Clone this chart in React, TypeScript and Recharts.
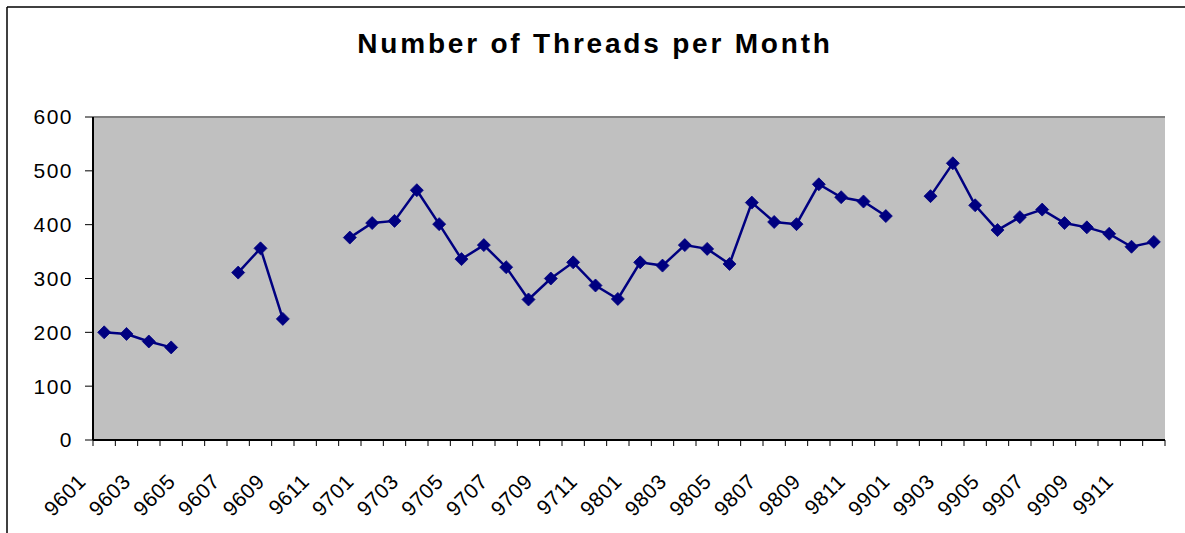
import React from 'react';
import { LineChart, Line, XAxis, YAxis, CartesianGrid, ReferenceLine } from 'recharts';

const months = [
  '9601', '9602', '9603', '9604', '9605', '9606', '9607', '9608', '9609', '9610', '9611', '9612',
  '9701', '9702', '9703', '9704', '9705', '9706', '9707', '9708', '9709', '9710', '9711', '9712',
  '9801', '9802', '9803', '9804', '9805', '9806', '9807', '9808', '9809', '9810', '9811', '9812',
  '9901', '9902', '9903', '9904', '9905', '9906', '9907', '9908', '9909', '9910', '9911', '9912',
];

const threads: (number | null)[] = [
  200, 197, 183, 172, null, null, 311, 356, 225, null, null, 376,
  403, 407, 464, 401, 336, 362, 321, 261, 300, 330, 287, 262,
  330, 324, 362, 355, 327, 441, 405, 401, 475, 451, 443, 416,
  null, 453, 514, 436, 390, 414, 428, 403, 395, 383, 359, 368,
];

const yTicks = [0, 100, 200, 300, 400, 500, 600];
const title = 'Number of Threads per Month';

const data = months.map((m, i) => ({ month: m, threads: threads[i] }));

const W = 1185;
const H = 533;
const MARGIN = { top: 117, right: 20, bottom: 0, left: 0 };
const Y_AXIS_W = 93;
const X_AXIS_H = 93;
const PLOT_W = W - MARGIN.left - MARGIN.right - Y_AXIS_W;
const HALF_BAND = PLOT_W / months.length / 2;
const FONT = 'Arial, "Liberation Sans", Helvetica, sans-serif';

const Diamond = (props: any) => {
  const { cx, cy, value, index } = props;
  if (value == null || cx == null || cy == null) return <g key={`d-${index}`} />;
  const r = 6.5;
  return (
    <path
      key={`d-${index}`}
      d={`M${cx},${cy - r}L${cx + r},${cy}L${cx},${cy + r}L${cx - r},${cy}Z`}
      fill="#000080"
      stroke="#000080"
      strokeWidth={0.8}
    />
  );
};

const XTick = (props: any) => {
  const { x, y, payload, index } = props;
  const i = typeof index === 'number' ? index : months.indexOf(payload.value);
  const left = x - HALF_BAND;
  const isLast = i === months.length - 1;
  const showLabel = i % 2 === 0;
  const ax = x - 17;
  const ay = y + 43;
  return (
    <g>
      <line x1={left} y1={y} x2={left} y2={y + 6} stroke="#000" strokeWidth={1} />
      {isLast && (
        <line x1={x + HALF_BAND} y1={y} x2={x + HALF_BAND} y2={y + 6} stroke="#000" strokeWidth={1} />
      )}
      {showLabel && (
        <text
          x={ax}
          y={ay}
          textAnchor="end"
          transform={`rotate(-45, ${ax}, ${ay})`}
          fontFamily={FONT}
          fontSize={21}
          letterSpacing={0.5}
          fill="#000"
        >
          {payload.value}
        </text>
      )}
    </g>
  );
};

export default function App() {
  return (
    <div style={{ position: 'absolute', left: 0, top: 0, width: W, height: H, overflow: 'hidden', background: '#fff' }}>
      <svg width={W} height={H} style={{ position: 'absolute', left: 0, top: 0 }}>
        <line x1={7} y1={7} x2={W} y2={7} stroke="#000" strokeWidth={1.5} />
        <line x1={7} y1={7} x2={7} y2={H} stroke="#000" strokeWidth={1.5} />
        <text
          x={595}
          y={53}
          textAnchor="middle"
          fontFamily={FONT}
          fontSize={28}
          fontWeight="bold"
          letterSpacing={2.8}
          fill="#000"
        >
          {title}
        </text>
      </svg>
      <div style={{ position: 'absolute', left: 0, top: 0 }}>
        <LineChart width={W} height={H} data={data} margin={MARGIN}>
          <CartesianGrid
            vertical={false}
            horizontal={true}
            fill="#C0C0C0"
            fillOpacity={1}
            stroke="#000"
            strokeWidth={1}
          />
          <XAxis
            dataKey="month"
            type="category"
            scale="band"
            interval={0}
            height={X_AXIS_H}
            tickSize={0}
            tickMargin={0}
            tickLine={false}
            axisLine={{ stroke: '#000', strokeWidth: 2 }}
            tick={<XTick />}
          />
          <YAxis
            yAxisId="left"
            domain={[0, 600]}
            ticks={yTicks}
            width={Y_AXIS_W}
            tickSize={8}
            tickMargin={12}
            interval={0}
            axisLine={{ stroke: '#000', strokeWidth: 2 }}
            tickLine={{ stroke: '#000', strokeWidth: 1 }}
            tick={{ fill: '#000', fontSize: 21, fontFamily: FONT, letterSpacing: 1.5 }}
          />
          <YAxis
            yAxisId="right"
            orientation="right"
            domain={[0, 600]}
            width={0}
            tick={false}
            tickLine={false}
            axisLine={{ stroke: '#808080', strokeWidth: 2 }}
          />
          <ReferenceLine yAxisId="left" y={600} stroke="#808080" strokeWidth={2} />
          <Line
            yAxisId="left"
            type="linear"
            dataKey="threads"
            stroke="#000080"
            strokeWidth={2.5}
            dot={Diamond}
            activeDot={false}
            connectNulls={false}
            isAnimationActive={false}
          />
        </LineChart>
      </div>
    </div>
  );
}
